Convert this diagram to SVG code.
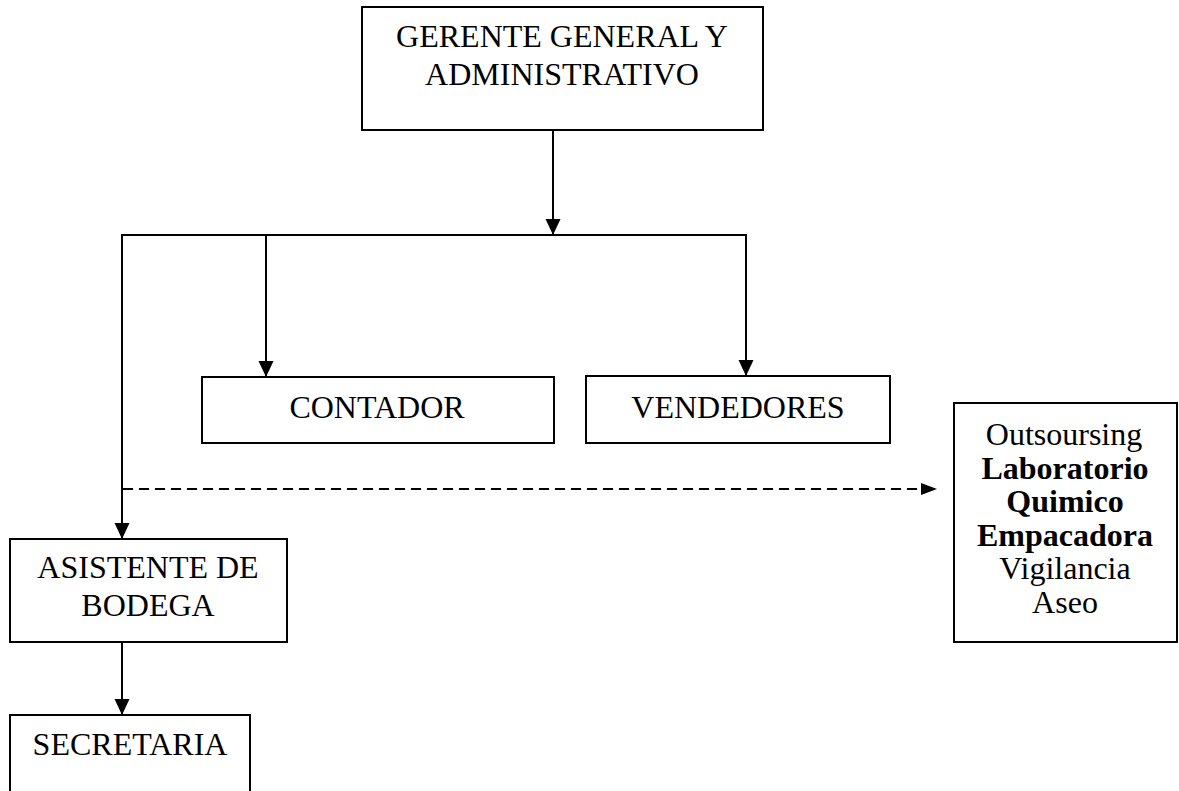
<svg xmlns="http://www.w3.org/2000/svg" width="1179" height="791" viewBox="0 0 1179 791">
  <defs>
    <marker id="arr" markerUnits="userSpaceOnUse" markerWidth="16" markerHeight="16" viewBox="0 0 16 16" refX="16" refY="8" orient="auto">
      <path d="M0,0.5 L16,8 L0,15.5 Z" fill="#000"/>
    </marker>
    <marker id="arrd" markerUnits="userSpaceOnUse" markerWidth="16" markerHeight="14" viewBox="0 0 16 14" refX="16" refY="7" orient="auto">
      <path d="M0,1 L16,7 L0,13 Z" fill="#000"/>
    </marker>
    <style>
      .box { fill: #fff; stroke: #000; stroke-width: 2; }
      .t { font-family: "Liberation Serif", "Times New Roman", serif; font-size: 32px; fill: #000; text-anchor: middle; }
      .b { font-weight: bold; }
      .ln { fill: none; stroke: #000; stroke-width: 2; }
      .dash { fill: none; stroke: #000; stroke-width: 2; stroke-dasharray: 10 6; }
    </style>
  </defs>
  <rect width="1179" height="791" fill="#fff"/>

  <g id="connectors">
    <line class="ln" x1="553" y1="130" x2="553" y2="235" marker-end="url(#arr)"/>
    <line class="ln" x1="122" y1="235" x2="747" y2="235"/>
    <line class="ln" x1="266" y1="235" x2="266" y2="377" marker-end="url(#arr)"/>
    <line class="ln" x1="746" y1="235" x2="746" y2="376" marker-end="url(#arr)"/>
    <line class="ln" x1="122" y1="234" x2="122" y2="539" marker-end="url(#arr)"/>
    <line class="dash" x1="123" y1="489" x2="937" y2="489" marker-end="url(#arrd)"/>
    <line class="ln" x1="122" y1="642" x2="122" y2="715" marker-end="url(#arr)"/>
  </g>

  <g id="node-gerente">
    <rect class="box" x="362" y="7" width="401" height="123"/>
    <text class="t" x="562" y="47">GERENTE GENERAL Y</text>
    <text class="t" x="562" y="85">ADMINISTRATIVO</text>
  </g>

  <g id="node-contador">
    <rect class="box" x="202" y="377" width="352" height="66"/>
    <text class="t" x="377" y="418">CONTADOR</text>
  </g>

  <g id="node-vendedores">
    <rect class="box" x="586" y="376" width="304" height="67"/>
    <text class="t" x="738" y="418">VENDEDORES</text>
  </g>

  <g id="node-outsourcing">
    <rect class="box" x="954" y="403" width="223" height="239"/>
    <text class="t" x="1064" y="445">Outsoursing</text>
    <text class="t b" x="1065" y="479">Laboratorio</text>
    <text class="t b" x="1065" y="512">Quimico</text>
    <text class="t b" x="1065" y="546">Empacadora</text>
    <text class="t" x="1065" y="579">Vigilancia</text>
    <text class="t" x="1065" y="613">Aseo</text>
  </g>

  <g id="node-asistente">
    <rect class="box" x="10" y="539" width="277" height="103"/>
    <text class="t" x="148" y="578">ASISTENTE DE</text>
    <text class="t" x="148" y="616">BODEGA</text>
  </g>

  <g id="node-secretaria">
    <rect class="box" x="10" y="715" width="240" height="100"/>
    <text class="t" x="130" y="755">SECRETARIA</text>
  </g>
</svg>
